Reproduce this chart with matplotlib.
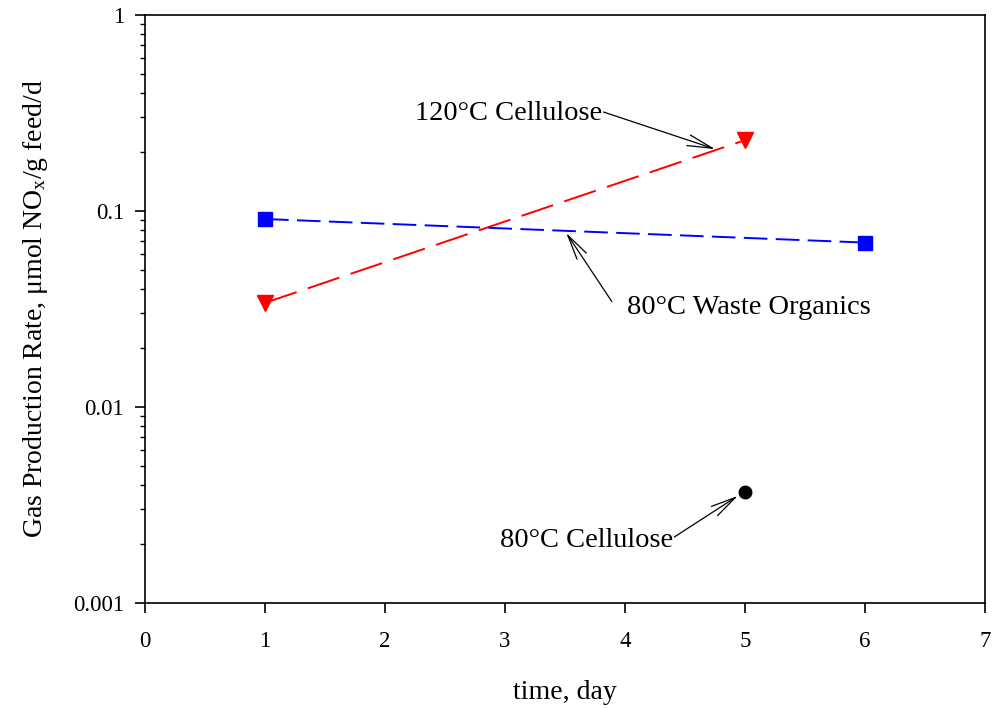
import matplotlib
matplotlib.use("Agg")
import matplotlib.pyplot as plt
from matplotlib.ticker import FixedLocator, LogLocator, FuncFormatter, NullFormatter

plt.rcParams['font.family'] = ['Liberation Serif', 'DejaVu Serif']
plt.rcParams['mathtext.fontset'] = 'custom'
plt.rcParams['mathtext.rm'] = 'Liberation Serif'
plt.rcParams['mathtext.it'] = 'Liberation Serif:italic'
plt.rcParams['lines.scale_dashes'] = False

# Data
cell120_x = [1, 5]
cell120_y = [0.034, 0.23]
waste80_x = [1, 6]
waste80_y = [0.091, 0.069]
cell80_x = [5]
cell80_y = [0.0037]

x_ticks = [0, 1, 2, 3, 4, 5, 6, 7]
y_ticks = [0.001, 0.01, 0.1, 1]
y_tick_labels = ['0.001', '0.01', '0.1', '1']

fig = plt.figure(figsize=(9.92, 7.08), dpi=100)
ax = fig.add_axes([0.1462, 0.1483, 0.8468, 0.8305])

ax.plot(cell120_x, cell120_y, color='red', lw=1.4, dashes=(24, 8.5),
        marker='v', markersize=11.5, markerfacecolor='red', markeredgecolor='red')
ax.plot(waste80_x, waste80_y, color='blue', lw=1.4, dashes=(17, 6),
        marker='s', markersize=9.5, markerfacecolor='blue', markeredgecolor='blue')
ax.plot(cell80_x, cell80_y, color='black', lw=0, marker='o', markersize=9)

ax.set_yscale('log')
ax.set_xlim(0, 7)
ax.set_ylim(0.001, 1)
ax.set_xticks(x_ticks)
ax.yaxis.set_major_locator(FixedLocator(y_ticks))
ax.yaxis.set_major_formatter(FuncFormatter(lambda v, p: y_tick_labels[y_ticks.index(min(y_ticks, key=lambda t: abs(t - v)))]))
ax.yaxis.set_minor_locator(LogLocator(base=10, subs=range(2, 10)))
ax.yaxis.set_minor_formatter(NullFormatter())

for s in ['left', 'bottom', 'top', 'right']:
    ax.spines[s].set_linewidth(1.2)
ax.tick_params(axis='both', which='major', direction='out', length=7, width=1.2,
               labelsize=16.5, top=False, right=False)
ax.tick_params(axis='y', which='minor', direction='out', length=3.8, width=1.0, right=False)
ax.tick_params(axis='y', which='major', pad=8)
ax.tick_params(axis='x', which='major', pad=13)

ax.set_xlabel('time, day', fontsize=20, labelpad=20)
ax.set_ylabel(r'Gas Production Rate, μmol NO$_\mathrm{x}$/g feed/d', fontsize=20, labelpad=16.5)

arrowprops = dict(arrowstyle='->,head_length=1.8,head_width=0.4', color='black', lw=0.9,
                  shrinkA=0, shrinkB=0)
# 120C Cellulose
ax.annotate('', xy=(4.75, 0.207), xytext=(3.82, 0.32), arrowprops=arrowprops)
ax.text(3.81, 0.316, '120°C Cellulose', fontsize=20.5, ha='right', va='center')
# 80C Waste Organics
ax.annotate('', xy=(3.51, 0.0773), xytext=(3.89, 0.0345), arrowprops=arrowprops)
ax.text(4.02, 0.032, '80°C Waste Organics', fontsize=20.5, ha='left', va='center')
# 80C Cellulose
ax.annotate('', xy=(4.94, 0.00352), xytext=(4.41, 0.00217), arrowprops=arrowprops)
ax.text(4.40, 0.00208, '80°C Cellulose', fontsize=20.5, ha='right', va='center')

fig.savefig('out.png', dpi=100)
